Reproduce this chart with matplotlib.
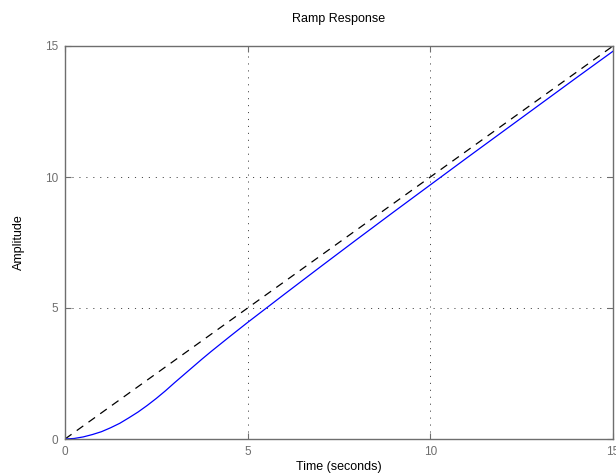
import matplotlib
matplotlib.use("Agg")
import matplotlib.pyplot as plt

# Data
time_s = [0, 0.25, 0.5, 0.75, 1, 1.25, 1.5, 1.75, 2, 2.25, 2.5, 2.75, 3, 3.25, 3.5,
          3.75, 4, 4.5, 5, 6, 7, 8, 9, 10, 11, 12, 13, 14, 15]
response = [0, 0.02, 0.08, 0.17, 0.28, 0.43, 0.60, 0.81, 1.03, 1.28, 1.55, 1.84,
            2.15, 2.45, 2.75, 3.05, 3.34, 3.90, 4.45, 5.52, 6.58,
            7.63, 8.67, 9.70, 10.73, 11.75, 12.77, 13.79, 14.80]
ramp_t = [0, 15]
ramp_in = [0, 15]
xticks = [0, 5, 10, 15]
yticks = [0, 5, 10, 15]

plt.rcParams['font.family'] = ['Liberation Sans', 'DejaVu Sans']
plt.rcParams['lines.scale_dashes'] = False

fig = plt.figure(figsize=(6.16, 4.76), dpi=100)
ax = fig.add_axes([65/616, 1-439/476, (613-65)/616, (439-46)/476])

ax.plot(ramp_t, ramp_in, color='black', lw=0.9, dashes=(5.8, 4.6))
ax.plot(time_s, response, color='#0000ff', lw=0.9)

ax.set_xlim(0, 15)
ax.set_ylim(0, 15)
ax.set_xticks(xticks)
ax.set_yticks(yticks)

gray = '#6e6e6e'
for s in ax.spines.values():
    s.set_color(gray)
    s.set_linewidth(1.0)
ax.tick_params(direction='in', length=4, width=0.8, colors=gray, labelsize=8.5,
               top=True, right=True, pad=5)
ax.grid(True, color='black', lw=0.5, dashes=(0.8, 4.2))

ax.set_title('Ramp Response', fontsize=9, pad=17)
ax.set_xlabel('Time (seconds)', fontsize=9, labelpad=2)
ax.set_ylabel('Amplitude', fontsize=9, labelpad=14)

fig.savefig('out.png', dpi=100)
